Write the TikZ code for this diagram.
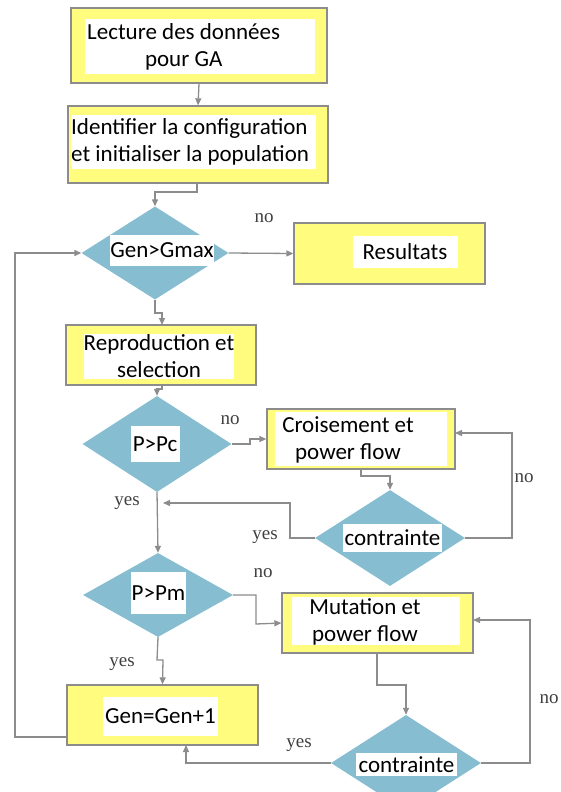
\documentclass[tikz,border=0pt]{standalone}
\usepackage{fontspec}
\setmainfont{Carlito}
\newfontfamily\labelfont{Liberation Serif}
\usepackage{tikz}
\usetikzlibrary{shapes.geometric,arrows.meta}
\definecolor{boxyellow}{HTML}{FFFC7E}
\definecolor{decblue}{HTML}{86BDD1}
\definecolor{linegray}{HTML}{8C8C8C}

\begin{document}
\begin{tikzpicture}[x=1pt,y=-1pt]
  \useasboundingbox (0,0) rectangle (561,792);
  \tikzstyle{step box}=[rectangle, draw=linegray, line width=1.3pt, fill=boxyellow, inner sep=0pt]
  \tikzstyle{test}=[diamond, fill=decblue, inner sep=0pt]
  \tikzstyle{tag}=[fill=white, inner sep=0pt, font=\fontsize{23}{27}\selectfont, align=center]
  \tikzstyle{ans}=[font=\labelfont\fontsize{19}{21}\selectfont, text=black!75]
  \tikzstyle{flow}=[draw=linegray, line width=1.3pt, -{Triangle[length=7pt,width=6pt]}]

  % boxes
  \node[step box, minimum width=256pt, minimum height=75pt] (lecture) at (199,45.5) {};
  \node[tag, minimum width=230pt, minimum height=55pt] (lecture-t) at (200,46.5) {};
  \node[tag, anchor=west, align=center] (lecture-x) at (87,46.5) {Lecture des données\\pour GA};

  \node[step box, minimum width=260pt, minimum height=77pt] (ident) at (198,144.5) {};
  \node[tag, minimum width=244pt, minimum height=54pt] (ident-t) at (194,142) {};
  \node[tag, anchor=west, align=left] (ident-x) at (71,141.5) {Identifier la configuration\\et initialiser la population};

  \node[step box, minimum width=191pt, minimum height=61pt] (res) at (389.5,253.5) {};
  \node[tag, minimum width=105pt, minimum height=32pt] (res-t) at (405,252) {Resultats};

  \node[step box, minimum width=190pt, minimum height=60pt] (repro) at (161,355) {};
  \node[tag, minimum width=150pt, minimum height=45pt] (repro-t) at (159,356) {Reproduction et\\selection};

  \node[step box, minimum width=188pt, minimum height=60pt] (crois) at (361,439) {};
  \node[tag, minimum width=172pt, minimum height=54pt] (crois-t) at (361,439) {};
  \node[tag] (crois-x) at (348,440) {Croisement et\\power flow};

  \node[step box, minimum width=191pt, minimum height=60pt] (mut) at (377.5,623) {};
  \node[tag, minimum width=168pt, minimum height=48pt] (mut-t) at (376,621) {};
  \node[tag] (mut-x) at (365,622) {Mutation et\\power flow};

  \node[step box, minimum width=191pt, minimum height=60pt] (gen) at (162.5,715) {};
  \node[tag, minimum width=115pt, minimum height=39pt] (gen-t) at (160.5,716) {Gen=Gen+1};

  % tests
  \node[test, minimum width=147pt, minimum height=93pt] (gmax) at (155,253) {};
  \node[tag, minimum width=98pt, minimum height=31pt] (gmax-t) at (162,250.5) {Gen>Gmax};

  \node[test, minimum width=149pt, minimum height=96pt] (pc) at (157,444) {};
  \node[tag, minimum width=49pt, minimum height=36pt] (pc-t) at (155,444) {P>Pc};

  \node[test, minimum width=150pt, minimum height=96pt] (ca) at (390,538) {};
  \node[tag, minimum width=99pt, minimum height=28pt] (ca-t) at (392.5,538) {contrainte};

  \node[test, minimum width=150pt, minimum height=84pt] (pm) at (158,595) {};
  \node[tag, minimum width=55pt, minimum height=42pt] (pm-t) at (158.5,593) {P>Pm};

  \node[test, minimum width=150pt, minimum height=96pt] (cb) at (406,763) {};
  \node[tag, minimum width=101pt, minimum height=23pt] (cb-t) at (406.5,764.5) {contrainte};

  % connectors
  \draw[flow] (lecture.south) -- (ident.north);
  \draw[flow] (197,183) -- (197,192) -- (155,192) -- (gmax.north);
  \draw[flow] (gmax.east) -- (res.west);
  \draw[flow] (gmax.south) -- (155,313) -- (162,313) -- (162,325);
  \draw[flow] (162,385) -- (162,389) -- (157,389) -- (pc.north);
  \draw[flow] (pc.east) -- (250,444) -- (250,439) -- (crois.west);
  \draw[flow] (361,469) -- (361,476) -- (390,476) -- (ca.north);
  \draw[flow] (ca.east) -- (512,538) -- (512,433) -- (455,433);
  \draw[flow] (ca.west) -- (290,538) -- (290,503) -- (163,503);
  \draw[flow] (pc.south) -- (pm.north);
  \draw[flow] (pm.east) -- (256,595) -- (256,624) -- (mut.west);
  \draw[flow] (377,653) -- (377,685) -- (406,685) -- (cb.north);
  \draw[flow] (cb.east) -- (530,763) -- (530,620) -- (473,620);
  \draw[flow] (cb.west) -- (186,763) -- (186,745);
  \draw[flow] (pm.south) -- (157,660) -- (163,660) -- (gen.north);
  \draw[flow] (67,737) -- (15,737) -- (15,253) -- (gmax.west);

  % answers
  \node[ans] (no1) at (264,218) {no};
  \node[ans] (no2) at (230,420) {no};
  \node[ans] (no3) at (524,478) {no};
  \node[ans] (no4) at (263,573) {no};
  \node[ans] (no5) at (549,699) {no};
  \node[ans] (yes1) at (127,503) {yes};
  \node[ans] (yes2) at (265,537) {yes};
  \node[ans] (yes3) at (122,664) {yes};
  \node[ans] (yes4) at (299,745) {yes};
\end{tikzpicture}
\end{document}
